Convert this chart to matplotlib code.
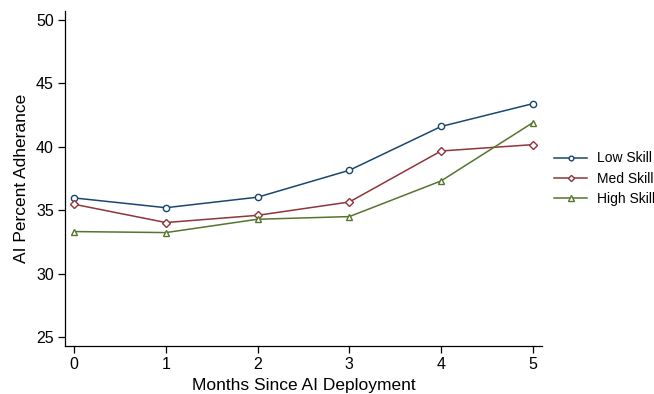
import matplotlib
matplotlib.use("Agg")
import matplotlib.pyplot as plt

plt.rcParams['font.family'] = ['Liberation Sans', 'DejaVu Sans']

months = [0, 1, 2, 3, 4, 5]
low_skill = [35.97, 35.2, 36.03, 38.15, 41.6, 43.4]
med_skill = [35.47, 34.03, 34.6, 35.65, 39.67, 40.17]
high_skill = [33.32, 33.24, 34.29, 34.5, 37.31, 41.9]
series_names = ["Low Skill", "Med Skill", "High Skill"]
colors = ["#1a476f", "#90353b", "#55752f"]
markers = ["o", "D", "^"]
msizes = [4.5, 4.2, 5]
y_ticks = [25, 30, 35, 40, 45, 50]

fig = plt.figure(figsize=(6.54, 3.94), dpi=100)
ax = fig.add_axes([0.0994, 0.1218, 0.7293, 0.8502])

for vals, name, c, m, ms in zip([low_skill, med_skill, high_skill], series_names, colors, markers, msizes):
    ax.plot(months, vals, color=c, lw=1.1, marker=m, markersize=ms,
            markerfacecolor='white', markeredgecolor=c, markeredgewidth=1.0, label=name)

ax.set_xlim(-0.1, 5.1)
ax.set_ylim(24.3, 50.7)
ax.set_xticks(months)
ax.set_yticks(y_ticks)
for s in ['top', 'right']:
    ax.spines[s].set_visible(False)
for s in ['left', 'bottom']:
    ax.spines[s].set_linewidth(0.9)
ax.tick_params(axis='both', direction='out', length=5, width=0.9, labelsize=11.5, pad=3)
ax.set_xlabel("Months Since AI Deployment", fontsize=12.5, labelpad=4)
ax.set_ylabel("AI Percent Adherance", fontsize=12.5, labelpad=5)

leg = ax.legend(loc='center left', bbox_to_anchor=(1.025, 0.5), frameon=False,
                fontsize=10, handlelength=2.4, handletextpad=0.7, labelspacing=0.44,
                borderaxespad=0, borderpad=0, markerscale=0.75)

fig.savefig("out.png", dpi=100)
